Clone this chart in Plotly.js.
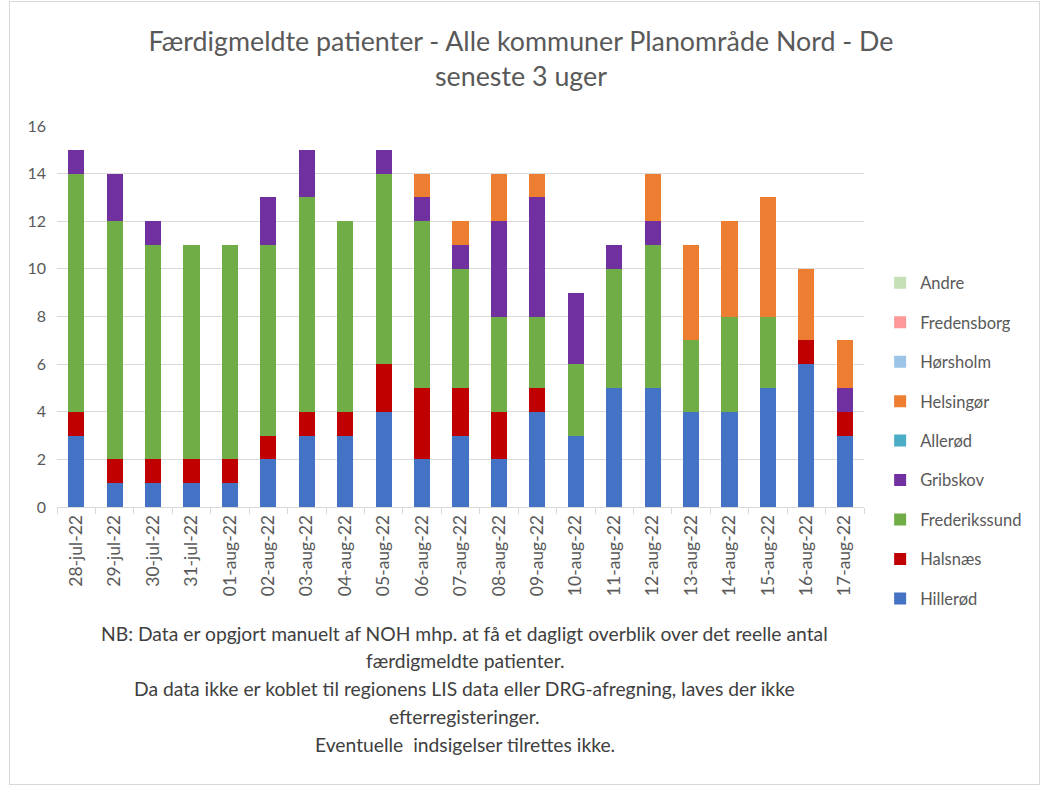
<!DOCTYPE html>
<html>
<head>
<meta charset="utf-8">
<script src="https://cdn.plot.ly/plotly-3.0.1.min.js"></script>
<style>
html,body{margin:0;padding:0;background:#fff;}
#chart{width:1042px;height:787px;position:absolute;left:0;top:0;}
#frame{position:absolute;left:9px;top:1px;width:1029px;height:782px;border:1px solid #d9d9d9;pointer-events:none;}
</style>
</head>
<body>
<div id="chart"></div>
<div id="frame"></div>
<script>
const dates = ["28-jul-22","29-jul-22","30-jul-22","31-jul-22","01-aug-22","02-aug-22","03-aug-22","04-aug-22","05-aug-22","06-aug-22","07-aug-22","08-aug-22","09-aug-22","10-aug-22","11-aug-22","12-aug-22","13-aug-22","14-aug-22","15-aug-22","16-aug-22","17-aug-22"];
const hilleroed     = [3,1,1,1,1,2,3,3,4,2,3,2,4,3,5,5,4,4,5,6,3];
const halsnaes      = [1,1,1,1,1,1,1,1,2,3,2,2,1,0,0,0,0,0,0,1,1];
const frederikssund = [10,10,9,9,9,8,9,8,8,7,5,4,3,3,5,6,3,4,3,0,0];
const gribskov      = [1,2,1,0,0,2,2,0,1,1,1,4,5,3,1,1,0,0,0,0,1];
const alleroed      = [0,0,0,0,0,0,0,0,0,0,0,0,0,0,0,0,0,0,0,0,0];
const helsingoer    = [0,0,0,0,0,0,0,0,0,1,1,2,1,0,0,2,4,4,5,3,2];
const hoersholm     = [0,0,0,0,0,0,0,0,0,0,0,0,0,0,0,0,0,0,0,0,0];
const fredensborg   = [0,0,0,0,0,0,0,0,0,0,0,0,0,0,0,0,0,0,0,0,0];
const andre         = [0,0,0,0,0,0,0,0,0,0,0,0,0,0,0,0,0,0,0,0,0];

const seriesNames = ["Hillerød","Halsnæs","Frederikssund","Gribskov","Allerød","Helsingør","Hørsholm","Fredensborg","Andre"];
const seriesData = [hilleroed,halsnaes,frederikssund,gribskov,alleroed,helsingoer,hoersholm,fredensborg,andre];
const seriesColors = ["#4472C4","#C00000","#70AD47","#7030A0","#4BACC6","#ED7D31","#9DC3E6","#FF9999","#C5E0B4"];

const noteLines = [
  "NB: Data er opgjort manuelt af NOH mhp. at få et dagligt overblik over det reelle antal",
  "færdigmeldte patienter.",
  "Da data ikke er koblet til regionens LIS data eller DRG-afregning, laves der ikke",
  "efterregisteringer.",
  "Eventuelle  indsigelser tilrettes ikke."
];

const FONT = "Lato, 'Open Sans', sans-serif";

const traces = seriesNames.map((n,i)=>({
  type:'bar', name:n, x:dates, y:seriesData[i],
  marker:{color:seriesColors[i], line:{width:0}},
  legendgroup:'g'+i, legendrank:100-i, hoverinfo:'name+y'
}));

// plot area: top 126, bottom 507 => 381 px tall
const annotations = noteLines.map((t,i)=>({
  text:t, xref:'paper', yref:'paper', x:0.505, y:(507-633-i*27.8)/381,
  xanchor:'center', yanchor:'middle', showarrow:false,
  font:{family:FONT, size:19.3, color:'#404040'}
}));

const layout = {
  width:1042, height:787,
  margin:{l:57, r:178, t:126, b:280, pad:0},
  paper_bgcolor:'rgba(0,0,0,0)', plot_bgcolor:'#fff',
  barmode:'stack', bargap:0.58,
  title:{text:"Færdigmeldte patienter - Alle kommuner Planområde Nord - De<br>seneste 3 uger",
    x:0.5, xref:'container', xanchor:'center', y:0.935, yref:'container', yanchor:'top',
    font:{family:FONT, size:26.8, color:'#595959'}},
  xaxis:{type:'category', showline:true, linecolor:'#d9d9d9', linewidth:1,
    ticks:'outside', tickson:'boundaries', ticklen:6, tickcolor:'#d9d9d9',
    tickangle:-90, tickfont:{family:FONT, size:17.5, color:'#595959'},
    showgrid:false, fixedrange:true, automargin:false},
  yaxis:{range:[0,16], dtick:2, showgrid:true, gridcolor:'#d9d9d9', gridwidth:1,
    zeroline:false, showline:false, ticks:'', ticklabelstandoff:10,
    tickfont:{family:FONT, size:16, color:'#595959'}, fixedrange:true, automargin:false},
  legend:{x:1.02, xanchor:'left', y:0.173, yanchor:'middle', traceorder:'grouped',
    font:{family:FONT, size:16.5, color:'#595959'}, tracegroupgap:15,
    itemwidth:30, bgcolor:'rgba(0,0,0,0)'},
  annotations:annotations,
  showlegend:true
};

Plotly.newPlot('chart', traces, layout, {displayModeBar:false, staticPlot:true});
</script>
</body>
</html>
